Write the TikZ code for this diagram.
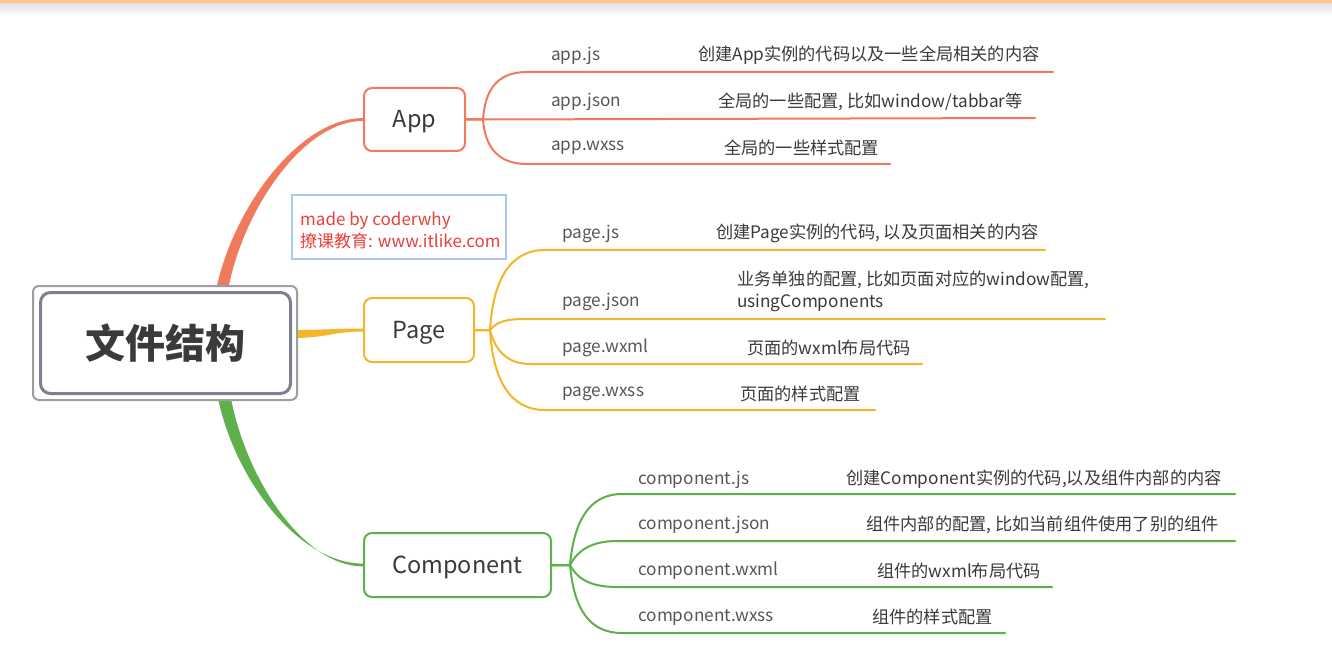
\documentclass[tikz,border=0pt]{standalone}
\usepackage{fontspec}
\setmainfont{Noto Sans CJK SC}
\usetikzlibrary{calc,shadows}
\definecolor{appc}{HTML}{F07A5C}
\definecolor{pagec}{HTML}{F4B52A}
\definecolor{compc}{HTML}{5DB04A}
\definecolor{txt}{HTML}{3A3A3A}
\definecolor{rootedge}{HTML}{7B8190}
\definecolor{wmred}{HTML}{E8403A}
\definecolor{wmblue}{HTML}{A9C9F2}
\tikzset{
  topic/.style={draw, rounded corners=8pt, line width=2pt, fill=white, inner sep=0pt, text height=18pt, text depth=2pt, font=\fontsize{23.5}{28}\selectfont, text=txt},
  sub/.style={anchor=west, inner sep=0pt, font=\fontsize{17.2}{22}\selectfont, text=txt!85},
  desc/.style={anchor=west, inner sep=0pt, font=\fontsize{17.2}{22}\selectfont, text=txt, align=left},
  twig/.style={line width=2pt, line cap=round},
}
\begin{document}
\begin{tikzpicture}[x=1pt,y=-1pt]
\useasboundingbox (0,0) rectangle (1332,660);
\fill[white] (0,0) rectangle (1332,660);
% top bar
\shade[top color=black!12, bottom color=white] (0,3) rectangle (1332,16);
\draw[line width=2.5pt, color=orange!45] (0,1.5) -- (1332,1.5);

% topic nodes
\node[topic, draw=appc, minimum width=101pt, minimum height=63pt] (app) at (414.5,119.5) {App};
\node[topic, draw=pagec, minimum width=110pt, minimum height=64pt] (page) at (419,330) {Page};
\node[topic, draw=compc, minimum width=187pt, minimum height=64pt] (comp) at (457.5,565) {Component};

% root anchors
\coordinate (rA) at (222,290);
\coordinate (rP) at (292,334);
\coordinate (rC) at (224,396);

% main branches (tapered)
\fill[appc] ($(rA)+(-6,0)$) .. controls +(17,-82) and +(-64,0) .. ($(app.west)+(0,-1.4)$)
   -- ($(app.west)+(0,1.4)$) .. controls +(-60,0) and +(15,-80) .. ($(rA)+(6,0)$) -- cycle;
\fill[pagec] ($(rP)+(0,-4)$) .. controls +(35,0) and +(-30,0) .. ($(page.west)+(0,-1.5)$)
   -- ($(page.west)+(0,1.5)$) .. controls +(-30,0) and +(35,0) .. ($(rP)+(0,4)$) -- cycle;
\fill[compc] ($(rC)+(-6.5,0)$) .. controls +(17,84) and +(-64,0) .. ($(comp.west)+(0,-1.4)$)
   -- ($(comp.west)+(0,1.4)$) .. controls +(-60,0) and +(15,82) .. ($(rC)+(6.5,0)$) -- cycle;

% root node
\node[draw=black!38, line width=2pt, rounded corners=6pt, fill=white, minimum width=264pt, minimum height=114pt, inner sep=0pt] (rootout) at (165,343) {};
\node[draw=rootedge, line width=3pt, rounded corners=10pt, fill=white, minimum width=250pt, minimum height=101pt, inner sep=0pt,
      font=\fontsize{40}{44}\selectfont\bfseries, text=txt] (root) at (165.5,343) {文件结构};

% watermark
\node[draw=wmblue, line width=1.2pt, fill=white, drop shadow={shadow xshift=1pt, shadow yshift=-1pt, opacity=0.25},
      minimum width=214pt, minimum height=64pt, inner sep=0pt] (wm) at (399,227) {};
\node[anchor=west, inner sep=0pt, align=left, text=wmred, font=\fontsize{17}{22}\selectfont] (wmtext) at (300,230)
  {made by coderwhy\\撩课教育: www.itlike.com};

% App children
\coordinate (aj) at (483,119.5);
\coordinate (a1) at (1053,72);
\coordinate (a2) at (1035,118);
\coordinate (a3) at (890,164);
\draw[twig, appc] (app.east) -- (aj) .. controls (485,90) and (497,72) .. (527,72) -- (a1);
\draw[twig, appc] (app.east) -- (aj) -- (a2);
\draw[twig, appc] (app.east) -- (aj) .. controls (485,146) and (497,164) .. (527,164) -- (a3);
\node[sub] (a1l) at (551,55.5) {app.js};
\node[desc] (a1d) at (698,55.5) {创建App实例的代码以及一些全局相关的内容};
\node[sub] (a2l) at (551,102) {app.json};
\node[desc] (a2d) at (718,102) {全局的一些配置, 比如window/tabbar等};
\node[sub] (a3l) at (551,148) {app.wxss};
\node[desc] (a3d) at (724,148) {全局的一些样式配置};

% Page children
\coordinate (pj) at (490,330);
\coordinate (p1) at (1045,250);
\coordinate (p2) at (1105,319);
\coordinate (p3) at (922,364);
\coordinate (p4) at (875,410);
\draw[twig, pagec] (page.east) -- (pj) .. controls (493,280) and (510,250) .. (545,250) -- (p1);
\draw[twig, pagec] (page.east) -- (pj) .. controls (497,322) and (505,319) .. (525,319) -- (p2);
\draw[twig, pagec] (page.east) -- (pj) .. controls (495,350) and (507,364) .. (530,364) -- (p3);
\draw[twig, pagec] (page.east) -- (pj) .. controls (493,380) and (510,410) .. (545,410) -- (p4);
\node[sub] (p1l) at (562,233.5) {page.js};
\node[desc] (p1d) at (716,233.5) {创建Page实例的代码, 以及页面相关的内容};
\node[sub] (p2l) at (562,302) {page.json};
\node[desc] (p2d) at (737,291) {业务单独的配置, 比如页面对应的window配置,\\usingComponents};
\node[sub] (p3l) at (562,348) {page.wxml};
\node[desc] (p3d) at (747,348) {页面的wxml布局代码};
\node[sub] (p4l) at (562,394) {page.wxss};
\node[desc] (p4d) at (740,394) {页面的样式配置};

% Component children
\coordinate (cj) at (570,565);
\coordinate (c1) at (1235,494);
\coordinate (c2) at (1235,541);
\coordinate (c3) at (1052,587);
\coordinate (c4) at (1005,633);
\draw[twig, compc] (comp.east) -- (cj) .. controls (574,520) and (590,494) .. (622,494) -- (c1);
\draw[twig, compc] (comp.east) -- (cj) .. controls (578,550) and (592,541) .. (617,541) -- (c2);
\draw[twig, compc] (comp.east) -- (cj) .. controls (578,580) and (592,587) .. (617,587) -- (c3);
\draw[twig, compc] (comp.east) -- (cj) .. controls (574,610) and (590,633) .. (622,633) -- (c4);
\node[sub] (c1l) at (638,479.5) {component.js};
\node[desc] (c1d) at (846,479.5) {创建Component实例的代码,以及组件内部的内容};
\node[sub] (c2l) at (638,525) {component.json};
\node[desc] (c2d) at (866,525) {组件内部的配置, 比如当前组件使用了别的组件};
\node[sub] (c3l) at (638,571) {component.wxml};
\node[desc] (c3d) at (877,571) {组件的wxml布局代码};
\node[sub] (c4l) at (638,617) {component.wxss};
\node[desc] (c4d) at (872,617) {组件的样式配置};
\end{tikzpicture}
\end{document}
